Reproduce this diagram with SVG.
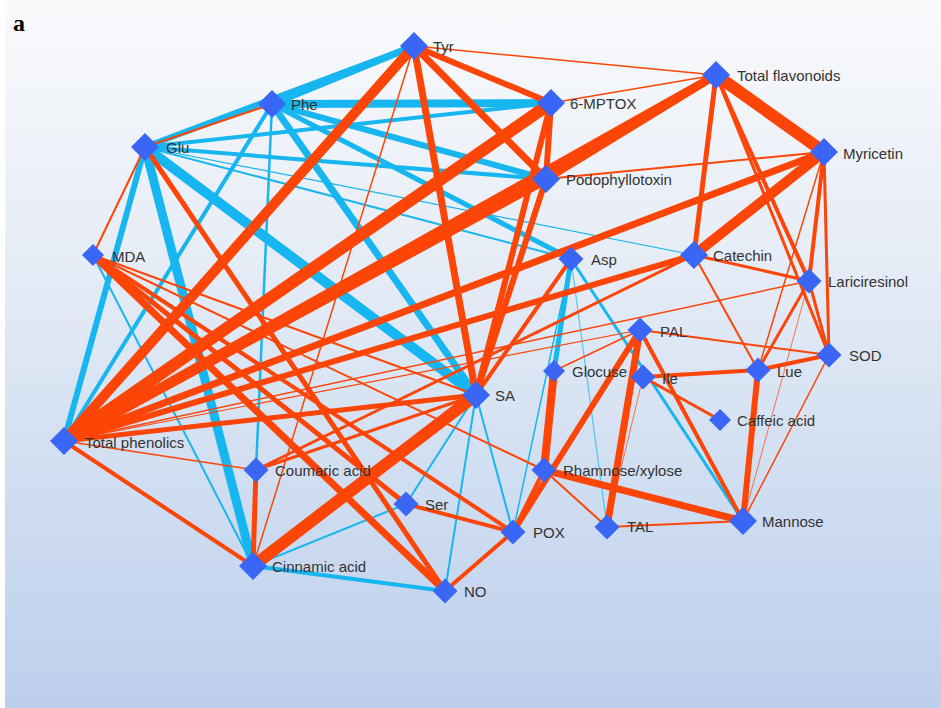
<svg xmlns="http://www.w3.org/2000/svg" xmlns:xlink="http://www.w3.org/1999/xlink" width="941" height="708" viewBox="0 0 941 708">
<defs>
<linearGradient id="bg" x1="0" y1="0" x2="0" y2="1">
<stop offset="0" stop-color="#f9fafc"/>
<stop offset="0.35" stop-color="#e7edf6"/>
<stop offset="0.7" stop-color="#cfddf1"/>
<stop offset="1" stop-color="#bccfed"/>
</linearGradient>
<path id="dL" d="M0,-14 L14,0 L0,14 L-14,0Z"/>
<path id="dM" d="M0,-12.5 L12.5,0 L0,12.5 L-12.5,0Z"/>
<path id="dS" d="M0,-11 L11,0 L0,11 L-11,0Z"/>
</defs>
<style>
.b{stroke:#17b6f0;fill:none;stroke-linecap:round}
.o{stroke:#fd4507;fill:none;stroke-linecap:round}
.lt{opacity:0.7}
.n use{fill:#3a66f6}
.n text{font-family:"Liberation Sans",Arial,sans-serif;font-size:15px;fill:#333;dominant-baseline:central}
</style>
<rect x="0" y="0" width="941" height="708" fill="#ffffff"/>
<rect x="5" y="0" width="936" height="708" fill="url(#bg)"/>
<text x="13" y="31" font-family="Liberation Serif,serif" font-weight="bold" font-size="24" fill="#000">a</text>
<g id="connectors">
<!-- blue -->
<line class="b" stroke-width="7" x1="414" y1="46" x2="272" y2="104"/>
<line class="b" stroke-width="6" x1="414" y1="46" x2="145" y2="147"/>
<line class="b" stroke-width="8" x1="272" y1="104" x2="551" y2="103"/>
<line class="b" stroke-width="6" x1="272" y1="104" x2="546" y2="179"/>
<line class="b" stroke-width="7" x1="272" y1="104" x2="476" y2="395"/>
<line class="b" stroke-width="5" x1="272" y1="104" x2="571" y2="259"/>
<line class="b" stroke-width="4" x1="272" y1="104" x2="64" y2="441"/>
<line class="b" stroke-width="2.5" x1="272" y1="104" x2="256" y2="470"/>
<line class="b" stroke-width="4" x1="145" y1="147" x2="551" y2="103"/>
<line class="b" stroke-width="4" x1="145" y1="147" x2="546" y2="179"/>
<line class="b" stroke-width="2" x1="145" y1="147" x2="571" y2="259"/>
<line class="b" stroke-width="1.2" x1="145" y1="147" x2="694" y2="255"/>
<line class="b" stroke-width="10" x1="145" y1="147" x2="476" y2="395"/>
<line class="b" stroke-width="9" x1="145" y1="147" x2="253" y2="566"/>
<line class="b" stroke-width="6" x1="145" y1="147" x2="64" y2="441"/>
<line class="b" stroke-width="2" x1="93" y1="255" x2="253" y2="566"/>
<line class="b" stroke-width="5" x1="571" y1="259" x2="554" y2="371"/>
<line class="b" stroke-width="1.5" x1="571" y1="259" x2="513" y2="532"/>
<line class="b lt" stroke-width="1.2" x1="571" y1="259" x2="607" y2="527"/>
<line class="b" stroke-width="3" x1="571" y1="259" x2="743" y2="521"/>
<line class="b" stroke-width="2" x1="476" y1="395" x2="406" y2="504"/>
<line class="b" stroke-width="2" x1="476" y1="395" x2="445" y2="591"/>
<line class="b" stroke-width="2" x1="476" y1="395" x2="513" y2="532"/>
<line class="b" stroke-width="2" x1="253" y1="566" x2="406" y2="504"/>
<line class="b" stroke-width="4" x1="253" y1="566" x2="445" y2="591"/>
<!-- orange -->
<line class="o" stroke-width="2" x1="145" y1="147" x2="272" y2="104"/>
<line class="o" stroke-width="2" x1="145" y1="147" x2="93" y2="255"/>
<line class="o" stroke-width="5" x1="145" y1="147" x2="445" y2="591"/>
<line class="o" stroke-width="10" x1="64" y1="441" x2="414" y2="46"/>
<line class="o" stroke-width="12" x1="64" y1="441" x2="551" y2="103"/>
<line class="o" stroke-width="8" x1="64" y1="441" x2="716" y2="75"/>
<line class="o" stroke-width="10" x1="64" y1="441" x2="546" y2="179"/>
<line class="o" stroke-width="7" x1="64" y1="441" x2="824" y2="152"/>
<line class="o" stroke-width="6" x1="64" y1="441" x2="694" y2="255"/>
<line class="o" stroke-width="1.5" x1="64" y1="441" x2="809" y2="281"/>
<line class="o" stroke-width="5" x1="64" y1="441" x2="476" y2="395"/>
<line class="o" stroke-width="1.5" x1="64" y1="441" x2="256" y2="470"/>
<line class="o" stroke-width="4" x1="64" y1="441" x2="253" y2="566"/>
<line class="o" stroke-width="1.2" x1="64" y1="441" x2="640" y2="330"/>
<line class="o" stroke-width="1.5" x1="414" y1="46" x2="716" y2="75"/>
<line class="o" stroke-width="6" x1="414" y1="46" x2="551" y2="103"/>
<line class="o" stroke-width="7" x1="414" y1="46" x2="546" y2="179"/>
<line class="o" stroke-width="7" x1="414" y1="46" x2="476" y2="395"/>
<line class="o" stroke-width="1.5" x1="414" y1="46" x2="253" y2="566"/>
<line class="o" stroke-width="1.5" x1="551" y1="103" x2="716" y2="75"/>
<line class="o" stroke-width="6" x1="551" y1="103" x2="546" y2="179"/>
<line class="o" stroke-width="6" x1="551" y1="103" x2="476" y2="395"/>
<line class="o" stroke-width="8" x1="546" y1="179" x2="716" y2="75"/>
<line class="o" stroke-width="2" x1="546" y1="179" x2="824" y2="152"/>
<line class="o" stroke-width="6" x1="546" y1="179" x2="476" y2="395"/>
<line class="o" stroke-width="12" x1="716" y1="75" x2="824" y2="152"/>
<line class="o" stroke-width="5" x1="716" y1="75" x2="694" y2="255"/>
<line class="o" stroke-width="4" x1="716" y1="75" x2="809" y2="281"/>
<line class="o" stroke-width="3" x1="716" y1="75" x2="829" y2="355"/>
<line class="o" stroke-width="10" x1="824" y1="152" x2="694" y2="255"/>
<line class="o" stroke-width="4" x1="824" y1="152" x2="809" y2="281"/>
<line class="o" stroke-width="3" x1="824" y1="152" x2="829" y2="355"/>
<line class="o" stroke-width="1.5" x1="824" y1="152" x2="758" y2="370"/>
<line class="o" stroke-width="3" x1="694" y1="255" x2="809" y2="281"/>
<line class="o" stroke-width="2" x1="694" y1="255" x2="758" y2="370"/>
<line class="o" stroke-width="3" x1="694" y1="255" x2="256" y2="470"/>
<line class="o" stroke-width="3" x1="809" y1="281" x2="758" y2="370"/>
<line class="o" stroke-width="3" x1="809" y1="281" x2="829" y2="355"/>
<line class="o lt" stroke-width="1" x1="809" y1="281" x2="743" y2="521"/>
<line class="o" stroke-width="4" x1="829" y1="355" x2="758" y2="370"/>
<line class="o" stroke-width="2" x1="829" y1="355" x2="640" y2="330"/>
<line class="o" stroke-width="1.5" x1="829" y1="355" x2="743" y2="521"/>
<line class="o" stroke-width="4" x1="758" y1="370" x2="643" y2="377"/>
<line class="o" stroke-width="6" x1="758" y1="370" x2="743" y2="521"/>
<line class="o" stroke-width="3" x1="720" y1="420" x2="643" y2="377"/>
<line class="o" stroke-width="7" x1="640" y1="330" x2="607" y2="527"/>
<line class="o" stroke-width="6" x1="640" y1="330" x2="513" y2="532"/>
<line class="o" stroke-width="4" x1="640" y1="330" x2="743" y2="521"/>
<line class="o" stroke-width="1.5" x1="640" y1="330" x2="554" y2="371"/>
<line class="o lt" stroke-width="1" x1="643" y1="377" x2="607" y2="527"/>
<line class="o" stroke-width="8" x1="554" y1="371" x2="544" y2="470"/>
<line class="o" stroke-width="7" x1="544" y1="470" x2="743" y2="521"/>
<line class="o" stroke-width="2" x1="544" y1="470" x2="607" y2="527"/>
<line class="o" stroke-width="4" x1="544" y1="470" x2="513" y2="532"/>
<line class="o" stroke-width="2" x1="93" y1="255" x2="544" y2="470"/>
<line class="o" stroke-width="7" x1="93" y1="255" x2="445" y2="591"/>
<line class="o" stroke-width="5" x1="93" y1="255" x2="406" y2="504"/>
<line class="o" stroke-width="4" x1="93" y1="255" x2="513" y2="532"/>
<line class="o" stroke-width="2" x1="93" y1="255" x2="476" y2="395"/>
<line class="o" stroke-width="12" x1="253" y1="566" x2="476" y2="395"/>
<line class="o" stroke-width="3" x1="256" y1="470" x2="476" y2="395"/>
<line class="o" stroke-width="4" x1="476" y1="395" x2="571" y2="259"/>
<line class="o" stroke-width="5" x1="256" y1="470" x2="253" y2="566"/>
<line class="o" stroke-width="4" x1="406" y1="504" x2="513" y2="532"/>
<line class="o" stroke-width="4" x1="445" y1="591" x2="513" y2="532"/>
<line class="o" stroke-width="2" x1="607" y1="527" x2="743" y2="521"/>
</g>
<g id="node-tyr" class="n"><use xlink:href="#dL" x="414" y="46"/><text x="433" y="46">Tyr</text></g>
<g id="node-phe" class="n"><use xlink:href="#dL" x="272" y="104"/><text x="291" y="104">Phe</text></g>
<g id="node-glu" class="n"><use xlink:href="#dL" x="145" y="147"/><text x="166" y="147">Glu</text></g>
<g id="node-6mptox" class="n"><use xlink:href="#dL" x="551" y="103"/><text x="570" y="103">6-MPTOX</text></g>
<g id="node-totalflavonoids" class="n"><use xlink:href="#dL" x="716" y="75"/><text x="737" y="75">Total flavonoids</text></g>
<g id="node-myricetin" class="n"><use xlink:href="#dL" x="824" y="152"/><text x="843" y="153">Myricetin</text></g>
<g id="node-podophyllotoxin" class="n"><use xlink:href="#dL" x="546" y="179"/><text x="566" y="179">Podophyllotoxin</text></g>
<g id="node-mda" class="n"><use xlink:href="#dS" x="93" y="255"/><text x="112" y="256">MDA</text></g>
<g id="node-asp" class="n"><use xlink:href="#dM" x="571" y="259"/><text x="591" y="259">Asp</text></g>
<g id="node-catechin" class="n"><use xlink:href="#dL" x="694" y="255"/><text x="713" y="255">Catechin</text></g>
<g id="node-lariciresinol" class="n"><use xlink:href="#dM" x="809" y="281"/><text x="828" y="281">Lariciresinol</text></g>
<g id="node-pal" class="n"><use xlink:href="#dM" x="640" y="330"/><text x="660" y="331">PAL</text></g>
<g id="node-sod" class="n"><use xlink:href="#dM" x="829" y="355"/><text x="849" y="355">SOD</text></g>
<g id="node-glocuse" class="n"><use xlink:href="#dS" x="554" y="371"/><text x="572" y="371">Glocuse</text></g>
<g id="node-ile" class="n"><use xlink:href="#dM" x="643" y="377"/><text x="662" y="378">Ile</text></g>
<g id="node-lue" class="n"><use xlink:href="#dM" x="758" y="370"/><text x="777" y="371">Lue</text></g>
<g id="node-caffeicacid" class="n"><use xlink:href="#dS" x="720" y="420"/><text x="737" y="420">Caffeic acid</text></g>
<g id="node-sa" class="n"><use xlink:href="#dL" x="476" y="395"/><text x="495" y="395">SA</text></g>
<g id="node-totalphenolics" class="n"><use xlink:href="#dL" x="64" y="441"/><text x="85" y="442">Total phenolics</text></g>
<g id="node-coumaricacid" class="n"><use xlink:href="#dM" x="256" y="470"/><text x="275" y="470">Coumaric acid</text></g>
<g id="node-rhamnose" class="n"><use xlink:href="#dM" x="544" y="470"/><text x="563" y="470">Rhamnose/xylose</text></g>
<g id="node-ser" class="n"><use xlink:href="#dM" x="406" y="504"/><text x="425" y="504">Ser</text></g>
<g id="node-pox" class="n"><use xlink:href="#dM" x="513" y="532"/><text x="533" y="532">POX</text></g>
<g id="node-tal" class="n"><use xlink:href="#dM" x="607" y="527"/><text x="627" y="526">TAL</text></g>
<g id="node-mannose" class="n"><use xlink:href="#dL" x="743" y="521"/><text x="762" y="521">Mannose</text></g>
<g id="node-cinnamicacid" class="n"><use xlink:href="#dL" x="253" y="566"/><text x="272" y="566">Cinnamic acid</text></g>
<g id="node-no" class="n"><use xlink:href="#dM" x="445" y="591"/><text x="464" y="591">NO</text></g>
</svg>
